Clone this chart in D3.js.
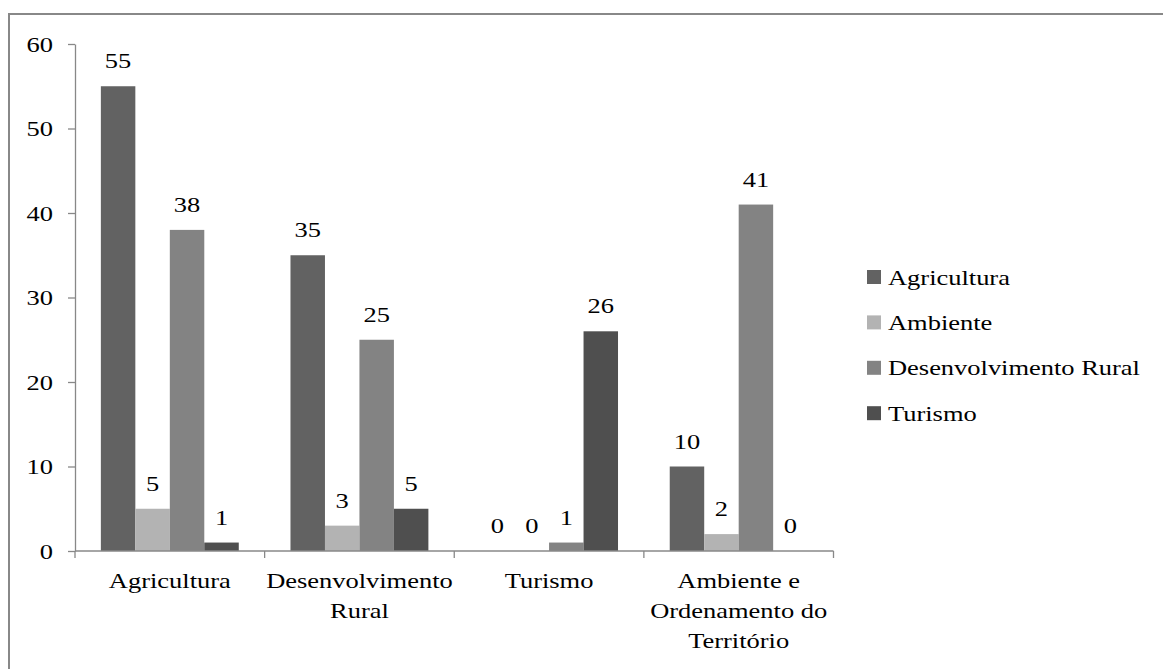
<!DOCTYPE html>
<html>
<head>
<meta charset="utf-8">
<script src="https://cdn.jsdelivr.net/npm/d3@7"></script>
<style>
  html, body { margin: 0; padding: 0; background: #fff; }
  svg { display: block; }
</style>
</head>
<body>
<svg id="chart" width="1163" height="669"></svg>
<script>
// Categories on the x axis and the text lines used for their labels
const categories = ["Agricultura", "Desenvolvimento Rural", "Turismo", "Ambiente e Ordenamento do Território"];
const categoryLines = [["Agricultura"], ["Desenvolvimento", "Rural"], ["Turismo"], ["Ambiente e", "Ordenamento do", "Território"]];

// Series (one bar per series inside each category)
const series = ["Agricultura", "Ambiente", "Desenvolvimento Rural", "Turismo"];
const agricultura = [55, 35, 0, 10];
const ambiente = [5, 3, 0, 2];
const desenvolvimentoRural = [38, 25, 1, 41];
const turismo = [1, 5, 26, 0];
const seriesValues = [agricultura, ambiente, desenvolvimentoRural, turismo];
const seriesColors = ["#626262", "#b3b3b3", "#838383", "#4f4f4f"];

const yTicks = [0, 10, 20, 30, 40, 50, 60];

const fontFamily = "Liberation Serif";
const fontSize = 21.5;
const stretch = 1.23;   // horizontal widening of the text

const svg = d3.select("#chart");

// outer frame
svg.append("rect")
  .attr("x", 9).attr("y", 14)
  .attr("width", 1170).attr("height", 700)
  .attr("fill", "none").attr("stroke", "#888").attr("stroke-width", 2);

const x0 = d3.scaleBand().domain(categories).range([75, 833.5]).paddingInner(0).paddingOuter(0);
const x1 = d3.scaleBand().domain(series).range([0, x0.bandwidth()]).paddingInner(0).paddingOuter(0.75);
const y = d3.scaleLinear().domain([0, 60]).range([551, 44]);

function label(sel, x, yPos, str, anchor) {
  const t = sel.append("text")
    .attr("x", x).attr("y", yPos)
    .attr("text-anchor", anchor)
    .attr("font-family", fontFamily)
    .attr("font-size", fontSize)
    .attr("fill", "#000")
    .text(str);
  const w = t.node().getComputedTextLength();
  t.attr("textLength", w * stretch).attr("lengthAdjust", "spacingAndGlyphs");
  return t;
}

// bars
const groups = svg.append("g").selectAll("g")
  .data(categories)
  .join("g")
  .attr("transform", d => `translate(${x0(d)},0)`);

groups.each(function(cat, ci) {
  const g = d3.select(this);
  series.forEach((s, si) => {
    const v = seriesValues[si][ci];
    g.append("rect")
      .attr("x", x1(s))
      .attr("y", y(v))
      .attr("width", x1.bandwidth())
      .attr("height", y(0) - y(v))
      .attr("fill", seriesColors[si]);
    label(g, x1(s) + x1.bandwidth() / 2, y(v) - 18, String(v), "middle");
  });
});

// y axis
const yAxis = svg.append("g")
  .attr("transform", "translate(75,0)")
  .call(d3.axisLeft(y).tickValues(yTicks).tickSize(7).tickSizeOuter(0));
yAxis.select(".domain").attr("stroke", "#888").attr("stroke-width", 1.3);
yAxis.selectAll(".tick line").attr("stroke", "#888").attr("stroke-width", 1.3);
yAxis.selectAll(".tick text").remove();
yAxis.selectAll(".tick").each(function(d) {
  label(d3.select(this), -22, 7, String(d), "end");
});

// x axis with ticks at category boundaries
const xAxis = svg.append("g").attr("transform", `translate(0,${y(0)})`);
xAxis.append("line")
  .attr("x1", x0.range()[0]).attr("x2", x0.range()[1])
  .attr("stroke", "#888").attr("stroke-width", 1.3);
const boundaries = categories.map(c => x0(c)).concat([x0.range()[1]]);
xAxis.selectAll(".bt")
  .data(boundaries)
  .join("line")
  .attr("x1", d => d).attr("x2", d => d)
  .attr("y1", 0).attr("y2", 7)
  .attr("stroke", "#888").attr("stroke-width", 1.3);

categories.forEach((c, i) => {
  categoryLines[i].forEach((line, li) => {
    label(xAxis, x0(c) + x0.bandwidth() / 2, 37 + li * 30, line, "middle");
  });
});

// legend
const legend = svg.append("g").attr("transform", "translate(867,277)");
series.forEach((s, i) => {
  const row = legend.append("g").attr("transform", `translate(0,${i * 45.4})`);
  row.append("rect")
    .attr("x", 0).attr("y", -7)
    .attr("width", 14).attr("height", 14)
    .attr("fill", seriesColors[i]);
  label(row, 21, 7.5, s, "start");
});
</script>
</body>
</html>
